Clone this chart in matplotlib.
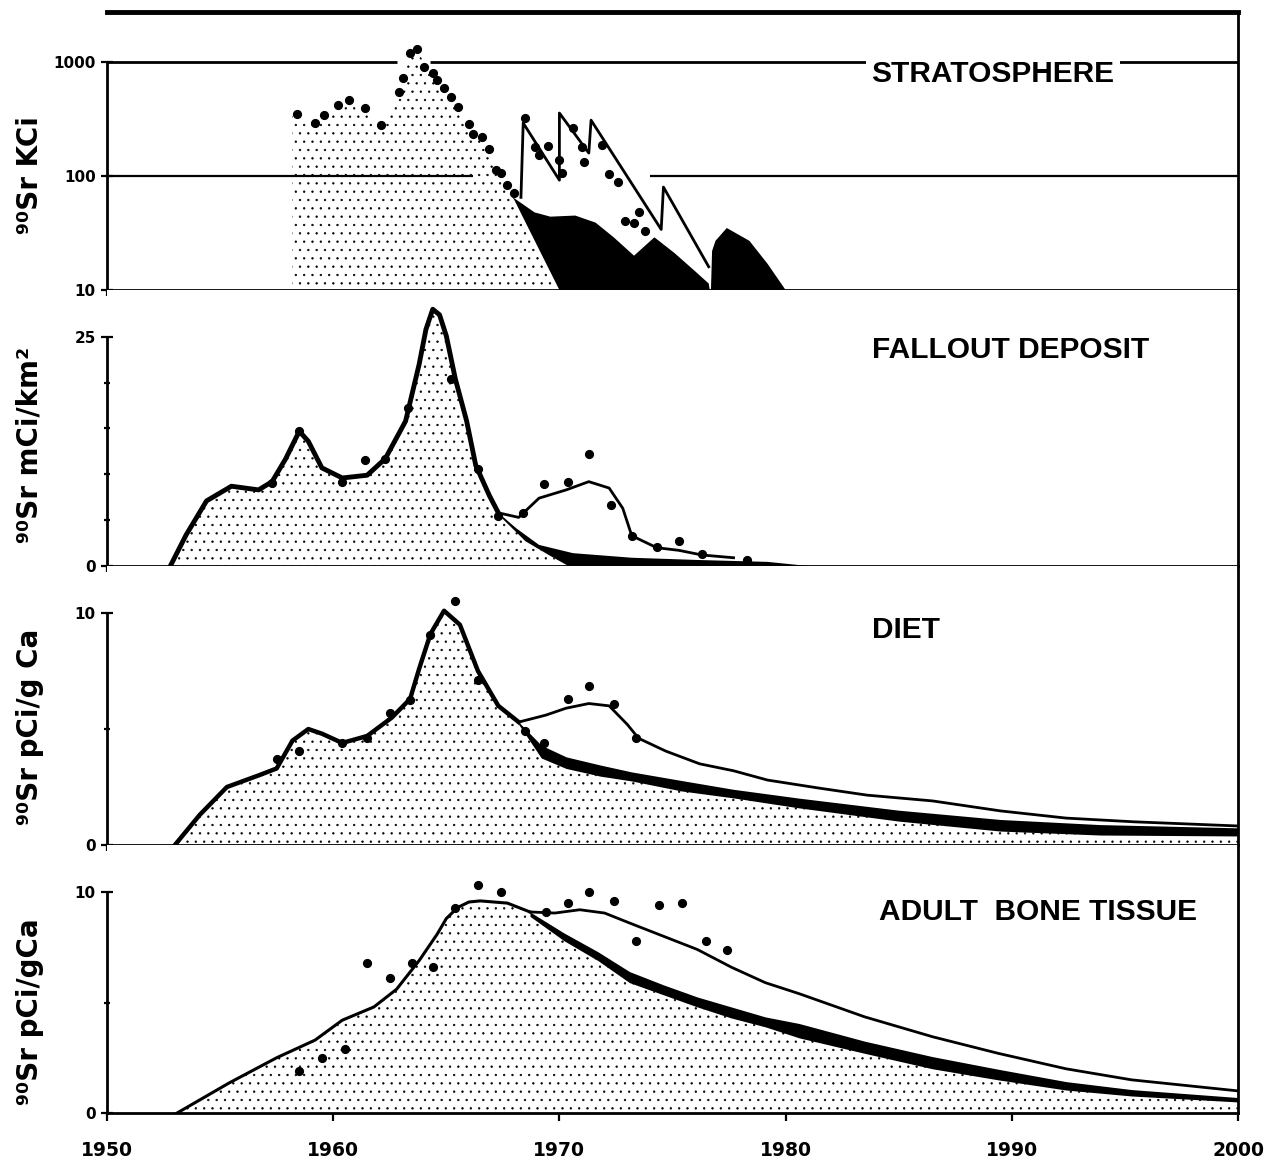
import matplotlib
matplotlib.use("Agg")
import matplotlib.pyplot as plt
import matplotlib.ticker as mticker

plt.rcParams["font.family"] = "DejaVu Sans"
plt.rcParams["font.weight"] = "bold"
plt.rcParams["hatch.linewidth"] = 0.45
plt.rcParams["hatch.color"] = "black"

# ---------------- stratosphere, 90Sr inventory (kCi, log scale) ----------------
strat_dot_year = [1958.4, 1959.2, 1959.6, 1960.2, 1960.7, 1961.4, 1962.1, 1962.9, 1963.1,
                  1963.4, 1963.7, 1964.0, 1964.4, 1964.6, 1964.9, 1965.2, 1965.5, 1966.0,
                  1966.2, 1966.6, 1966.9, 1967.2, 1967.4, 1967.7, 1968.0, 1968.5, 1968.9,
                  1969.1, 1969.5, 1970.0, 1970.1, 1970.6, 1971.0, 1971.1, 1971.9, 1972.2,
                  1972.6, 1972.9, 1973.3, 1973.5, 1973.8]
strat_dot_kci = [350, 292, 343, 420, 464, 395, 280, 545, 725,
                 1200, 1300, 905, 800, 695, 591, 493, 403, 286,
                 234, 220, 172, 113, 106, 83, 71, 323, 180,
                 153, 183, 138, 106, 264, 180, 133, 187, 104,
                 88, 40, 39, 48, 33]

strat_fill_year = [1958.2, 1958.2, 1959.2, 1960.2, 1960.7, 1961.4, 1962.1, 1962.9, 1963.4,
                   1963.7, 1964.4, 1965.2, 1966.0, 1966.6, 1967.2, 1968.0, 1970.0]
strat_fill_kci = [10, 340, 285, 405, 445, 385, 272, 530, 1150,
                  1250, 770, 470, 275, 210, 115, 62, 10]

strat_line_year = [1968.3, 1968.4, 1970.0, 1970.0, 1971.3, 1971.4, 1974.5, 1974.6, 1976.6]
strat_line_kci = [65, 292, 92, 357, 159, 309, 34, 80, 16]

strat_black1_year = [1967.9, 1968.9, 1969.6, 1970.7, 1971.6, 1972.4, 1973.3, 1974.2, 1975.1,
                     1976.0, 1976.6, 1976.65, 1970.0, 1968.0]
strat_black1_kci = [66, 48, 44, 45, 39, 29, 20, 29, 21, 14.6, 11.4, 10, 10, 62]
strat_black2_year = [1976.7, 1976.75, 1976.9, 1977.4, 1978.4, 1979.2, 1980.0]
strat_black2_kci = [10, 22, 27, 35, 27, 17, 10]

# ---------------- fallout deposit (mCi/km2) ----------------
dep_year = [1952.8, 1953.5, 1954.4, 1955.5, 1956.7, 1957.3, 1957.9, 1958.5, 1958.9, 1959.5,
            1960.4, 1961.5, 1962.3, 1963.2, 1963.8, 1964.1, 1964.4, 1964.7, 1965.0, 1965.4,
            1965.9, 1966.3, 1966.9, 1967.3]
dep_main = [0.0, 3.4, 7.1, 8.7, 8.3, 9.2, 11.7, 14.7, 13.6, 10.7,
            9.6, 9.9, 11.7, 15.8, 22.0, 25.8, 28.0, 27.4, 25.1, 20.4,
            15.8, 11.0, 7.7, 5.8]
dep_branch_year = [1967.3, 1968.2, 1969.1, 1970.3, 1971.3, 1972.2, 1972.8, 1973.2, 1974.3,
                   1975.3, 1976.3, 1977.7]
dep_branch = [5.8, 5.3, 7.4, 8.3, 9.2, 8.5, 6.3, 3.3, 2.0, 1.7, 1.2, 0.9]
dep_band_year = [1967.3, 1968.1, 1969.1, 1970.6, 1973.2, 1976.2, 1979.2, 1981.0]
dep_band_top = [5.8, 4.1, 2.3, 1.4, 0.9, 0.65, 0.45, 0.0]
dep_edge_year = [1967.3, 1968.5, 1969.6, 1970.4, 1981.0]
dep_edge = [5.6, 2.7, 1.1, 0.0, 0.0]
dep_dot_year = [1957.3, 1958.5, 1960.4, 1961.4, 1962.3, 1963.3, 1965.2, 1966.4, 1967.3,
                1968.4, 1969.3, 1970.4, 1971.3, 1972.3, 1973.2, 1974.3, 1975.3, 1976.3, 1978.3]
dep_dots = [9.0, 14.7, 9.2, 11.6, 11.7, 17.2, 20.4, 10.6, 5.5,
            5.8, 8.9, 9.2, 12.2, 6.6, 3.3, 2.1, 2.7, 1.3, 0.65]

# ---------------- diet (pCi/g Ca) ----------------
diet_year = [1953.0, 1954.1, 1955.3, 1956.7, 1957.5, 1958.2, 1958.9, 1959.5, 1960.4, 1961.5,
             1962.6, 1963.4, 1963.8, 1964.3, 1964.9, 1965.6, 1966.4, 1967.3, 1968.2]
diet_main = [0.0, 1.3, 2.5, 3.0, 3.3, 4.5, 5.0, 4.8, 4.4, 4.7,
             5.5, 6.3, 7.6, 9.1, 10.1, 9.5, 7.5, 6.0, 5.3]
diet_branch_year = [1968.2, 1969.4, 1970.3, 1971.3, 1972.2, 1973.0, 1973.5, 1974.7, 1976.2,
                    1977.7, 1979.2, 1981.5, 1983.6, 1986.5, 1989.5, 1992.4, 1995.4, 2000.0]
diet_branch = [5.3, 5.6, 5.9, 6.1, 6.0, 5.2, 4.6, 4.05, 3.5,
               3.2, 2.8, 2.45, 2.15, 1.9, 1.47, 1.16, 1.0, 0.82]
diet_band_year = [1968.2, 1969.2, 1970.3, 1971.8, 1973.2, 1975.4, 1977.7, 1980.6, 1985.0,
                  1989.5, 1993.9, 2000.0]
diet_band_top = [5.3, 4.3, 3.8, 3.45, 3.15, 2.78, 2.4, 2.02, 1.5, 1.1, 0.88, 0.74]
diet_band_low = [5.2, 3.75, 3.3, 2.97, 2.76, 2.33, 2.03, 1.6, 1.03, 0.6, 0.43, 0.39]
diet_dot_year = [1957.5, 1958.5, 1960.4, 1961.5, 1962.5, 1963.4, 1964.3, 1965.4, 1966.4,
                 1968.5, 1969.3, 1970.4, 1971.3, 1972.4, 1973.4]
diet_dots = [3.7, 4.05, 4.4, 4.6, 5.7, 6.25, 9.05, 10.5, 7.1,
             4.9, 4.4, 6.3, 6.85, 6.1, 4.6]

# ---------------- adult bone tissue (pCi/g Ca) ----------------
bone_year = [1953.1, 1955.4, 1957.5, 1959.2, 1960.4, 1961.8, 1962.8, 1963.8, 1964.6,
             1965.0, 1965.5, 1966.0, 1966.5, 1967.7, 1968.7]
bone_main = [0.0, 1.36, 2.5, 3.3, 4.2, 4.8, 5.6, 6.9, 8.1, 8.8, 9.3, 9.55, 9.6, 9.5, 9.1]
bone_branch_year = [1968.7, 1969.8, 1970.9, 1972.0, 1973.1, 1974.6, 1976.1, 1977.6, 1979.1,
                    1980.6, 1983.5, 1986.5, 1989.4, 1992.4, 1995.3, 2000.0]
bone_branch = [9.1, 9.05, 9.2, 9.05, 8.6, 8.0, 7.4, 6.6, 5.9,
               5.4, 4.35, 3.45, 2.7, 2.0, 1.5, 1.0]
bone_band_year = [1968.7, 1970.2, 1971.7, 1973.1, 1974.6, 1976.1, 1977.6, 1979.1, 1980.6,
                  1983.5, 1986.5, 1989.4, 1992.4, 1995.3, 2000.0]
bone_band_top = [9.1, 8.15, 7.3, 6.4, 5.8, 5.25, 4.8, 4.35, 4.05, 3.25, 2.55, 1.98, 1.42, 1.06, 0.7]
bone_band_low = [8.9, 7.8, 6.9, 5.9, 5.35, 4.8, 4.3, 3.9, 3.4, 2.7, 2.0, 1.5, 1.04, 0.77, 0.5]
bone_dot_year = [1958.5, 1959.5, 1960.5, 1961.5, 1962.5, 1963.5, 1964.4, 1965.4, 1966.4,
                 1967.4, 1969.4, 1970.4, 1971.3, 1972.4, 1973.4, 1974.4, 1975.4, 1976.5, 1977.4]
bone_dots = [1.9, 2.5, 2.9, 6.8, 6.1, 6.8, 6.6, 9.3, 10.3,
             10.0, 9.1, 9.5, 10.0, 9.6, 7.8, 9.4, 9.5, 7.8, 7.4]

years = [1950, 1960, 1970, 1980, 1990, 2000]
year_labels = ["1950", "1960", "1970", "1980", "1990", "2000"]

W, H = 1264, 1170
fig = plt.figure(figsize=(W / 100, H / 100), dpi=100)
fig.patch.set_facecolor("white")

title_font = ["Liberation Sans", "DejaVu Sans"]
title_size = 21.5
dot_ms = 5.6


def panel(top, bottom, left=107, right=1238):
    ax = fig.add_axes([left / W, 1 - bottom / H, (right - left) / W, (bottom - top) / H])
    ax.set_xlim(1950, 2000)
    ax.set_xticks(years)
    ax.set_xticklabels([])
    ax.tick_params(axis="x", direction="out", length=4, width=1.6)
    ax.tick_params(axis="y", which="major", direction="inout", length=8, width=1.6,
                   labelsize=11, pad=4)
    ax.tick_params(axis="y", which="minor", direction="inout", length=4, width=1.6)
    for side in ["left", "right", "bottom", "top"]:
        ax.spines[side].set_linewidth(2)
    ax.spines["top"].set_visible(False)
    return ax


def stipple(ax, x, y1, y2=0):
    ax.fill_between(x, y1, y2, facecolor="none", edgecolor="black", hatch="..",
                    linewidth=0, zorder=1)


def title(ax, x, y, s):
    return ax.text(x, y, s, transform=ax.transAxes, family=title_font, fontsize=title_size,
                   fontweight="bold", ha="left", va="center", zorder=5)


# stratosphere
ax1 = panel(12, 290)
ax1.set_yscale("log")
ax1.set_ylim(10, 2750)
ax1.yaxis.set_minor_locator(mticker.NullLocator())
ax1.set_yticks([10, 100, 1000])
ax1.set_yticklabels(["10", "100", "1000"])
ax1.spines["top"].set_visible(True)
ax1.spines["top"].set_linewidth(3.5)
ax1.spines["left"].set_bounds(10, 1000)
ax1.hlines(1000, 1950, 1962.8, color="black", lw=2, zorder=0)
ax1.hlines(1000, 1964.3, 2000, color="black", lw=2, zorder=0)
ax1.hlines(100, 1950, 1966.2, color="black", lw=1.6, zorder=0)
ax1.hlines(100, 1974.0, 2000, color="black", lw=1.6, zorder=0)
ax1.fill(strat_fill_year, strat_fill_kci, facecolor="none", edgecolor="black",
         hatch="..", linewidth=0, zorder=1)
ax1.fill(strat_black1_year, strat_black1_kci, color="black", lw=0, zorder=2)
ax1.fill(strat_black2_year, strat_black2_kci, color="black", lw=0, zorder=2)
ax1.plot(strat_line_year, strat_line_kci, color="black", lw=2, zorder=3)
ax1.plot(strat_dot_year, strat_dot_kci, "o", color="black", ms=dot_ms, zorder=4)
t = title(ax1, 0.676, 0.777, "STRATOSPHERE")
t.set_bbox(dict(facecolor="white", edgecolor="none", pad=4))

# fallout deposit
ax2 = panel(290, 566)
ax2.set_ylim(0, 30.1)
ax2.set_yticks([0, 25])
ax2.set_yticks([5, 10, 15, 20], minor=True)
ax2.spines["left"].set_bounds(0, 25)
ax2.fill(dep_year + dep_edge_year[1:4], dep_main + dep_edge[1:4],
         facecolor="none", edgecolor="black", hatch="..", linewidth=0, zorder=1)
ax2.fill(dep_band_year + dep_edge_year[::-1], dep_band_top + dep_edge[::-1],
         color="black", lw=0, zorder=2)
ax2.plot(dep_year, dep_main, color="black", lw=3.5, zorder=3)
ax2.plot(dep_branch_year, dep_branch, color="black", lw=2, zorder=3)
ax2.plot(dep_dot_year, dep_dots, "o", color="black", ms=dot_ms, zorder=4)
title(ax2, 0.676, 0.783, "FALLOUT DEPOSIT")

# diet
ax3 = panel(566, 845)
ax3.set_ylim(0, 12.03)
ax3.set_yticks([0, 10])
ax3.set_yticks([5], minor=True)
ax3.spines["left"].set_bounds(0, 10)
stipple(ax3, diet_year, diet_main)
stipple(ax3, diet_band_year, diet_band_low)
ax3.fill_between(diet_band_year, diet_band_low, diet_band_top, color="black", lw=0, zorder=2)
ax3.plot(diet_year, diet_main, color="black", lw=3.2, zorder=3)
ax3.plot(diet_branch_year, diet_branch, color="black", lw=2, zorder=3)
ax3.plot(diet_dot_year, diet_dots, "o", color="black", ms=dot_ms, zorder=4)
title(ax3, 0.676, 0.77, "DIET")

# adult bone
ax4 = panel(845, 1113)
ax4.set_ylim(0, 12.13)
ax4.set_yticks([0, 10])
ax4.set_yticks([5], minor=True)
ax4.spines["left"].set_bounds(0, 10)
ax4.set_xticklabels(year_labels, fontsize=13.5, fontweight="bold")
ax4.tick_params(axis="x", length=6, pad=14)
stipple(ax4, bone_year, bone_main)
stipple(ax4, bone_band_year, bone_band_low)
ax4.fill_between(bone_band_year, bone_band_low, bone_band_top, color="black", lw=0, zorder=2)
ax4.plot(bone_year, bone_main, color="black", lw=2.2, zorder=3)
ax4.plot(bone_branch_year, bone_branch, color="black", lw=2, zorder=3)
ax4.plot(bone_dot_year, bone_dots, "o", color="black", ms=dot_ms, zorder=4)
title(ax4, 0.683, 0.75, "ADULT  BONE TISSUE")

# unit labels on the left
for label, ypx in [("⁹⁰Sr KCi", 175), ("⁹⁰Sr mCi/km²", 445),
                   ("⁹⁰Sr pCi/g Ca", 727), ("⁹⁰Sr pCi/gCa", 1012)]:
    fig.text(30 / W, 1 - ypx / H, label, rotation=90, fontsize=20, fontweight="bold",
             ha="center", va="center")

fig.savefig("out.png", dpi=100, facecolor="white")
